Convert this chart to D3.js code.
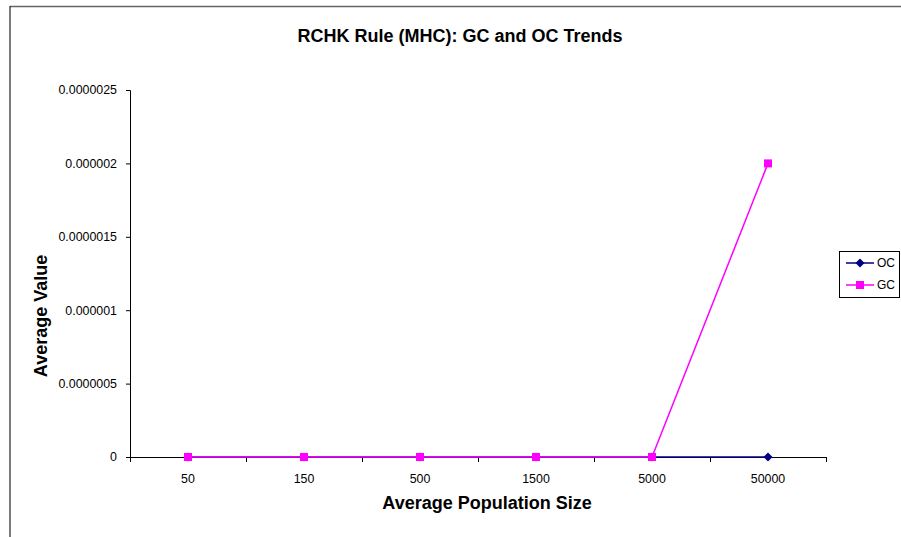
<!DOCTYPE html>
<html>
<head>
<meta charset="utf-8">
<script src="https://cdn.jsdelivr.net/npm/d3@7"></script>
<style>
  html, body { margin: 0; padding: 0; background: #fff; }
  svg { display: block; font-family: Arial, "Liberation Sans", sans-serif; }
</style>
</head>
<body>
<svg id="chart" width="901" height="537"></svg>
<script>
// Population sizes along the x axis
const categories = ["50", "150", "500", "1500", "5000", "50000"];
// Average value of each measure per population size
const ocValues = [0, 0, 0, 0, 0, 0];
const gcValues = [0, 0, 0, 0, 0, 0.000002];
// Y axis ticks
const yTicks = [0, 0.0000005, 0.000001, 0.0000015, 0.000002, 0.0000025];
const yTickLabels = ["0", "0.0000005", "0.000001", "0.0000015", "0.000002", "0.0000025"];

const series = [
  { name: "OC", values: ocValues, color: "#000080", marker: "diamond" },
  { name: "GC", values: gcValues, color: "#FF00FF", marker: "square" }
];

const svg = d3.select("#chart");

// Outer chart frame
svg.append("line").attr("x1", 10).attr("y1", 6.5).attr("x2", 901).attr("y2", 6.5)
  .attr("stroke", "#666").attr("stroke-width", 1.5);
svg.append("line").attr("x1", 10).attr("y1", 6).attr("x2", 10).attr("y2", 537)
  .attr("stroke", "#222").attr("stroke-width", 1.2);

const plot = { left: 130, right: 826, top: 90, bottom: 457 };

const x = d3.scaleBand().domain(categories).range([plot.left, plot.right]);
const y = d3.scaleLinear().domain([0, 0.0000025]).range([plot.bottom, plot.top]);
const cx = c => x(c) + x.bandwidth() / 2;

// Y axis
const yAxis = d3.axisLeft(y).tickValues(yTicks)
  .tickFormat((d, i) => yTickLabels[i]).tickSize(4).tickPadding(9);
const gy = svg.append("g").attr("transform", `translate(${plot.left},0)`).call(yAxis);
gy.select(".domain").attr("stroke", "#000");
gy.selectAll(".tick line").attr("stroke", "#000");
gy.selectAll(".tick text").attr("font-size", 12.4).attr("fill", "#000")
  .attr("font-family", "Arial, 'Liberation Sans', sans-serif");

// X axis: ticks at category boundaries, labels centred in each band
const gx = svg.append("g").attr("transform", `translate(0,${plot.bottom})`);
gx.append("line").attr("x1", plot.left).attr("x2", plot.right)
  .attr("y1", 0.5).attr("y2", 0.5).attr("stroke", "#000");
const bounds = categories.map(c => x(c)).concat([plot.right]);
gx.selectAll("line.tk").data(bounds).join("line").attr("class", "tk")
  .attr("x1", d => d + 0.5).attr("x2", d => d + 0.5).attr("y1", 0).attr("y2", 5)
  .attr("stroke", "#000");
gx.selectAll("text").data(categories).join("text")
  .attr("x", d => cx(d)).attr("y", 26).attr("text-anchor", "middle")
  .attr("font-size", 12.4).attr("fill", "#000").text(d => d);

// Series lines and markers
const line = d3.line().x((d, i) => cx(categories[i])).y(d => y(d));
function drawMarker(g, type, color, px, py) {
  if (type === "square") {
    g.append("rect").attr("x", px - 4).attr("y", py - 4).attr("width", 8).attr("height", 8)
      .attr("fill", color);
  } else {
    g.append("path").attr("d", `M${px},${py - 4.5}L${px + 4.5},${py}L${px},${py + 4.5}L${px - 4.5},${py}Z`)
      .attr("fill", color);
  }
}
series.forEach(s => {
  const g = svg.append("g");
  g.append("path").datum(s.values).attr("d", line).attr("fill", "none")
    .attr("stroke", s.color).attr("stroke-width", 1.5);
  s.values.forEach((v, i) => drawMarker(g, s.marker, s.color, cx(categories[i]), y(v)));
});

// Titles
svg.append("text").attr("x", 460).attr("y", 42).attr("text-anchor", "middle")
  .attr("font-size", 18).attr("font-weight", "bold").text("RCHK Rule (MHC): GC and OC Trends");
svg.append("text").attr("x", 487).attr("y", 509).attr("text-anchor", "middle")
  .attr("font-size", 18).attr("font-weight", "bold").text("Average Population Size");
svg.append("text").attr("transform", `translate(47,316) rotate(-90)`)
  .attr("text-anchor", "middle")
  .attr("font-size", 18).attr("font-weight", "bold").text("Average Value");

// Legend
const lg = svg.append("g");
lg.append("rect").attr("x", 839.5).attr("y", 251.5).attr("width", 60).attr("height", 46)
  .attr("fill", "#fff").attr("stroke", "#000");
series.forEach((s, i) => {
  const ly = 263 + i * 22;
  lg.append("line").attr("x1", 846).attr("x2", 874).attr("y1", ly).attr("y2", ly)
    .attr("stroke", s.color).attr("stroke-width", 1.5);
  drawMarker(lg, s.marker, s.color, 860, ly);
  lg.append("text").attr("x", 877).attr("y", ly + 4).attr("font-size", 12).text(s.name);
});
</script>
</body>
</html>
